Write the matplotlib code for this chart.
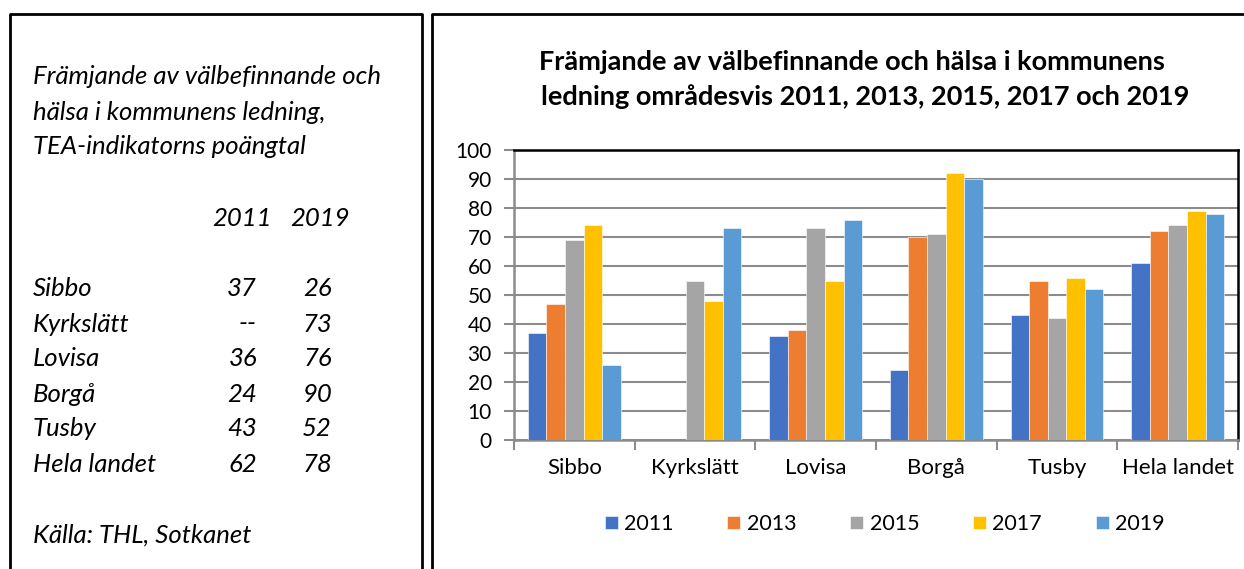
import numpy as np
import matplotlib.pyplot as plt
from matplotlib.lines import Line2D

plt.rcParams['font.family'] = ['Lato', 'DejaVu Sans']

areas = ["Sibbo", "Kyrkslätt", "Lovisa", "Borgå", "Tusby", "Hela landet"]
years = ["2011", "2013", "2015", "2017", "2019"]
v2011 = [37, 0, 36, 24, 43, 61]
v2013 = [47, 0, 38, 70, 55, 72]
v2015 = [69, 55, 73, 71, 42, 74]
v2017 = [74, 48, 55, 92, 56, 79]
v2019 = [26, 73, 76, 90, 52, 78]
colors = ["#4472C4", "#ED7D31", "#A5A5A5", "#FFC000", "#5B9BD5"]

# table in the left box
tab_names = ["Sibbo", "Kyrkslätt", "Lovisa", "Borgå", "Tusby", "Hela landet"]
tab_2011 = ["37", "--", "36", "24", "43", "62"]
tab_2019 = ["26", "73", "76", "90", "52", "78"]

W, H = 1244, 569
fig = plt.figure(figsize=(W / 100, H / 100), dpi=100)

def fx(px):
    return px / W

def fy(py):
    return 1 - py / H

# frames
fig.add_artist(Line2D([fx(10), fx(10), fx(422), fx(422)], [0, fy(14), fy(14), 0],
                      transform=fig.transFigure, color="black", lw=2))
fig.add_artist(Line2D([fx(432), fx(432), 1.01], [0, fy(14), fy(14)],
                      transform=fig.transFigure, color="black", lw=2))

# left text
tstyle = dict(fontsize=18.5, style="italic", color="black", va="center")
for i, line in enumerate(["Främjande av välbefinnande och",
                          "hälsa i kommunens ledning,",
                          "TEA-indikatorns poängtal"]):
    fig.text(fx(33), fy(77 + 35 * i), line, ha="left", **tstyle)
fig.text(fx(272), fy(218), "2011", ha="right", **tstyle)
fig.text(fx(350), fy(218), "2019", ha="right", **tstyle)
for i, name in enumerate(tab_names):
    y = fy(289 + 35 * i)
    fig.text(fx(33), y, name, ha="left", **tstyle)
    fig.text(fx(257), y, tab_2011[i], ha="right", **tstyle)
    fig.text(fx(332), y, tab_2019[i], ha="right", **tstyle)
fig.text(fx(33), fy(535), "Källa: THL, Sotkanet", ha="left", **tstyle)

# chart
fig.text(fx(852), fy(62), "Främjande av välbefinnande och hälsa i kommunens",
         ha="center", va="center", fontsize=19.5, fontweight="bold")
fig.text(fx(865), fy(97), "ledning områdesvis 2011, 2013, 2015, 2017 och 2019",
         ha="center", va="center", fontsize=19.5, fontweight="bold")

ax = fig.add_axes([fx(514), fy(440), fx(1238) - fx(514), fy(150) - fy(440)])
series = [v2011, v2013, v2015, v2017, v2019]
x = np.arange(len(areas))
bw = 0.154
for i, (vals, yr, c) in enumerate(zip(series, years, colors)):
    ax.bar(x + (i - 2) * bw, vals, bw, color=c, label=yr, zorder=3,
           edgecolor="white", linewidth=0.4)

ax.set_xlim(-0.5, len(areas) - 0.5)
ax.set_ylim(0, 100)
ax.set_yticks(range(0, 101, 10))
ax.yaxis.grid(True, color="#8c8c8c", lw=1.5, zorder=0)
ax.set_xticks(x)
ax.set_xticklabels(areas, fontsize=16)
ax.tick_params(axis="x", length=0, pad=13)
ax.set_xticks(np.arange(-0.5, len(areas), 1), minor=True)
ax.tick_params(axis="x", which="minor", length=7, color="#8c8c8c", width=1.5)
ax.tick_params(axis="y", labelsize=15, length=7, color="#8c8c8c", width=1.5, pad=9)

for s in ["left", "bottom"]:
    ax.spines[s].set_color("#8c8c8c")
    ax.spines[s].set_linewidth(1.8)
for s in ["top", "right"]:
    ax.spines[s].set_color("black")
    ax.spines[s].set_linewidth(1.8)

ax.legend(loc="center", bbox_to_anchor=(0.512, -0.29), ncol=5, frameon=False,
          fontsize=15.5, handlelength=0.6, handleheight=0.6, handletextpad=0.3,
          columnspacing=2.5)

fig.savefig("out.png", dpi=100)
